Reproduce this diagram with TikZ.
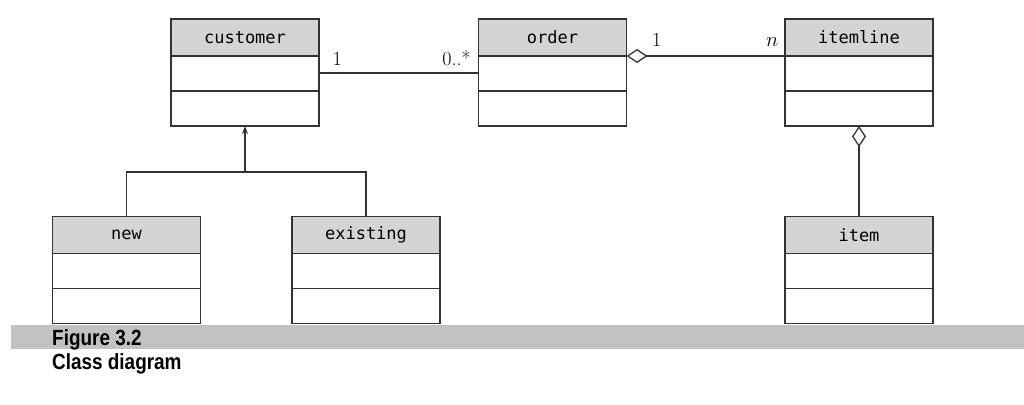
\documentclass[tikz,border=0pt]{standalone}
\usepackage{fontspec}
\setmonofont{DejaVu Sans Mono}
\newfontfamily\capfont[FakeStretch=0.86]{Liberation Sans}
\usetikzlibrary{positioning,arrows.meta,calc}

\begin{document}
\begin{tikzpicture}[x=1pt,y=-1pt,>={Stealth[length=8pt,width=6pt]},
	head/.style={draw=black!80,line width=1.2pt,fill=black!17,minimum width=148pt,minimum height=37pt,
		inner sep=0pt,outer sep=0pt,font=\fontsize{17}{17}\selectfont\ttfamily},
	comp/.style={draw=black!80,line width=1.2pt,fill=white,minimum width=148pt,minimum height=35pt,
		inner sep=0pt,outer sep=0pt},
	link/.style={draw=black!80,line width=1.3pt},
	agg/.style={{Diamond[open,length=21pt,width=14pt]}-},
	mult/.style={font=\fontsize{20}{20}\selectfont,inner sep=0pt}]
	\useasboundingbox (0,0) rectangle (1024,404);
	% classes
	\foreach \nm/\x/\y in {customer/245/37.5,order/552.5/37.5,itemline/859/37.5,
		new/126.5/235,existing/366/235,item/859/235}{
		\node[head] (\nm) at (\x,\y) {\nm};
		\node[comp,below=0pt of \nm] (\nm-a) {};
		\node[comp,below=0pt of \nm-a] (\nm-o) {};
	}
	% associations
	\draw[link] ([yshift=0.5pt]customer-a.east) -- node[mult,pos=0,anchor=base west,xshift=13pt,yshift=7pt] (m1) {1}
		node[mult,pos=1,anchor=base east,xshift=-7pt,yshift=7pt] (m2) {0..*} ([yshift=0.5pt]order-a.west);
	\draw[link,agg] (order.south east) -- node[mult,pos=0,anchor=base west,xshift=25pt,yshift=9pt] (m3) {1}
		node[mult,pos=1,anchor=base east,xshift=-6pt,yshift=9pt] (m4) {$n$} (itemline.south west);
	\draw[link,agg] (itemline-o.south) -- (item.north);
	% inheritance
	\coordinate (gen) at ($(customer-o.south)+(0,46)$);
	\draw[link,->] (gen) -- (customer-o.south);
	\draw[link] (new.north) |- (gen) -| (existing.north);
	% caption
	\fill[black!24] (11,325) rectangle (1024,349);
	\node[font=\capfont\bfseries\fontsize{22}{22}\selectfont,anchor=base west,inner sep=0pt] (fig) at (52,345) {Figure 3.2};
	\node[font=\capfont\bfseries\fontsize{22}{22}\selectfont,anchor=base west,inner sep=0pt] (title) at (52,369) {Class diagram};
\end{tikzpicture}
\end{document}
